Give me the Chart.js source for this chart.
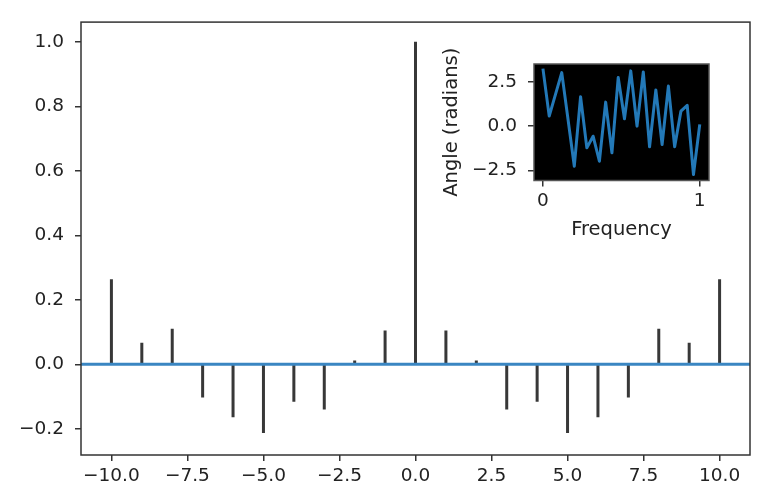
<script src="https://cdn.jsdelivr.net/npm/chart.js@4.4.7/dist/chart.umd.min.js"></script>

<style>
  body { margin: 0; background: #fff; }
  #wrap { position: relative; width: 782px; height: 500px; }
  #chart { position: absolute; left: 0; top: 0; }
  #inset { position: absolute; left: 430px; top: 40px; }
</style>

<div id="wrap">
  <canvas id="chart" width="782" height="500"></canvas>
  <canvas id="inset" width="290" height="220"></canvas>
</div>

<script>
  // main stem plot
  const lags = [-10, -9, -8, -7, -6, -5, -4, -3, -2, -1, 0, 1, 2, 3, 4, 5, 6, 7, 8, 9, 10]
  const values = [0.264, 0.067, 0.110, -0.103, -0.164, -0.213, -0.116, -0.140, 0.012, 0.105, 1.0,
                  0.105, 0.012, -0.140, -0.116, -0.213, -0.164, -0.103, 0.110, 0.067, 0.264]
  const xTicks = [-10, -7.5, -5, -2.5, 0, 2.5, 5, 7.5, 10]
  const yTicks = [-0.2, 0, 0.2, 0.4, 0.6, 0.8, 1.0]

  // inset: phase
  const freq = [0, 0.04, 0.12, 0.2, 0.24, 0.28, 0.32, 0.36, 0.4, 0.44, 0.48, 0.52,
                0.56, 0.6, 0.64, 0.68, 0.72, 0.76, 0.8, 0.84, 0.88, 0.92, 0.96, 1.0]
  const angle = [3.26, 0.57, 3.03, -2.27, 1.67, -1.23, -0.57, -1.99, 1.36, -1.51, 2.75, 0.42,
                 3.13, 0.0, 3.07, -1.17, 2.05, -1.04, 2.27, -1.17, 0.85, 1.18, -2.74, 0.10]
  const insetXTicks = [0, 1]
  const insetYTicks = [-2.5, 0, 2.5]

  const FONT = 'DejaVu Sans'
  const TEXT = '#222'

  function fmt1(v) {
    return (v < 0 ? '\u2212' : '') + Math.abs(v).toFixed(1)
  }

  function fixTicks(list) {
    return function (scale) {
      scale.ticks = list.map((v) => ({ value: v }))
    }
  }

  function frame(color, fill) {
    return {
      id: 'frame',
      beforeDatasetsDraw(chart) {
        if (!fill) return
        const a = chart.chartArea
        chart.ctx.save()
        chart.ctx.fillStyle = fill
        chart.ctx.fillRect(a.left, a.top, a.right - a.left, a.bottom - a.top)
        chart.ctx.restore()
      },
      afterDraw(chart) {
        const a = chart.chartArea
        const ctx = chart.ctx
        ctx.save()
        ctx.strokeStyle = color
        ctx.lineWidth = 1.5
        ctx.strokeRect(a.left, a.top, a.right - a.left, a.bottom - a.top)
        ctx.restore()
      }
    }
  }

  // build stem segments, broken by null points
  const stemData = []
  for (let i = 0; i < lags.length; i++) {
    stemData.push({ x: lags[i], y: 0 })
    stemData.push({ x: lags[i], y: values[i] })
    stemData.push({ x: lags[i], y: null })
  }

  const tickFont = { family: FONT, size: 18.5 }

  new Chart(document.getElementById('chart'), {
    type: 'scatter',
    data: {
      datasets: [
        {
          data: [{ x: -11, y: 0 }, { x: 11, y: 0 }],
          showLine: true,
          borderColor: '#3a86c2',
          borderWidth: 3,
          pointRadius: 0
        },
        {
          data: stemData,
          showLine: true,
          spanGaps: false,
          borderColor: '#383838',
          borderWidth: 3,
          borderCapStyle: 'butt',
          pointRadius: 0
        }
      ]
    },
    options: {
      responsive: false,
      animation: false,
      devicePixelRatio: 1,
      layout: { padding: { left: 0, top: 19, right: 32, bottom: 0 } },
      plugins: { legend: { display: false }, tooltip: { enabled: false } },
      scales: {
        x: {
          type: 'linear',
          min: -11,
          max: 11,
          afterBuildTicks: fixTicks(xTicks),
          afterFit: (s) => { s.height = 45 },
          border: { display: false },
          grid: { drawOnChartArea: false, drawTicks: true, tickLength: 6, tickColor: '#333', lineWidth: 1.5 },
          ticks: { font: tickFont, color: TEXT, padding: 4, maxRotation: 0, autoSkip: false, callback: (v) => fmt1(v) }
        },
        y: {
          type: 'linear',
          min: -0.281,
          max: 1.061,
          afterBuildTicks: fixTicks(yTicks),
          afterFit: (s) => { s.width = 81 },
          border: { display: false },
          grid: { drawOnChartArea: false, drawTicks: true, tickLength: 6, tickColor: '#333', lineWidth: 1.5 },
          ticks: { font: tickFont, color: TEXT, padding: 11, autoSkip: false, callback: (v) => fmt1(v) }
        }
      }
    },
    plugins: [frame('#333', null)]
  })

  // inset
  const insetPoints = freq.map((f, i) => ({ x: f, y: angle[i] }))
  const titleFont = { family: FONT, size: 19.5 }

  new Chart(document.getElementById('inset'), {
    type: 'scatter',
    data: {
      datasets: [
        {
          data: insetPoints,
          showLine: true,
          borderColor: '#2379b8',
          borderWidth: 3,
          borderJoinStyle: 'round',
          pointRadius: 0,
          tension: 0
        }
      ]
    },
    options: {
      responsive: false,
      animation: false,
      devicePixelRatio: 1,
      layout: { padding: { left: 0, top: 24, right: 11, bottom: 0 } },
      plugins: { legend: { display: false }, tooltip: { enabled: false } },
      scales: {
        x: {
          type: 'linear',
          min: -0.057,
          max: 1.059,
          afterBuildTicks: fixTicks(insetXTicks),
          afterFit: (s) => { s.height = 79.5 },
          border: { display: false },
          grid: { drawOnChartArea: false, drawTicks: true, tickLength: 6, tickColor: '#333', lineWidth: 1.5 },
          ticks: { font: tickFont, color: TEXT, padding: 4, maxRotation: 0, autoSkip: false, callback: (v) => String(v) },
          title: { display: true, text: 'Frequency', font: titleFont, color: TEXT, padding: { top: 0, bottom: 18 } }
        },
        y: {
          type: 'linear',
          min: -3.08,
          max: 3.52,
          afterBuildTicks: fixTicks(insetYTicks),
          afterFit: (s) => { s.width = 104 },
          border: { display: false },
          grid: { drawOnChartArea: false, drawTicks: true, tickLength: 6, tickColor: '#333', lineWidth: 1.5 },
          ticks: { font: tickFont, color: TEXT, padding: 11, autoSkip: false, callback: (v) => fmt1(v) },
          title: { display: true, text: 'Angle (radians)', font: titleFont, color: TEXT, padding: { top: 10, bottom: 0 } }
        }
      }
    },
    plugins: [frame('#555', '#000')]
  })
</script>
